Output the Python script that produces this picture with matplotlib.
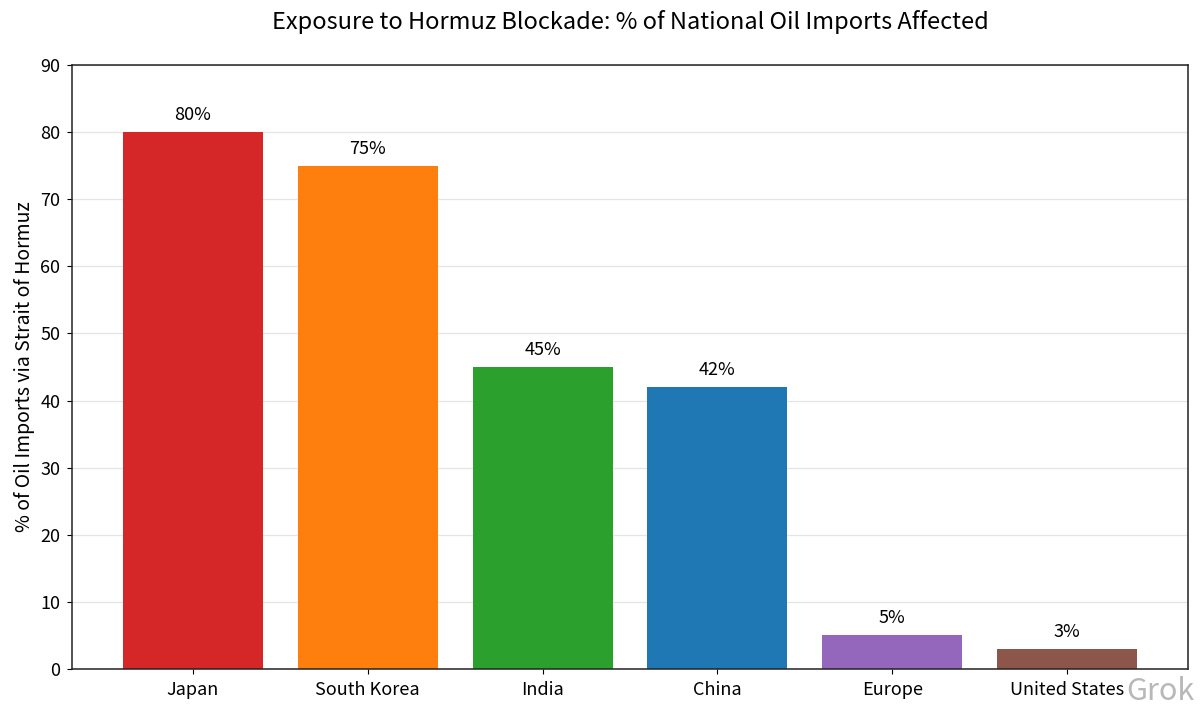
import matplotlib
matplotlib.use("Agg")
import matplotlib.pyplot as plt

plt.rcParams['font.family'] = ['Noto Sans CJK SC', 'DejaVu Sans']

countries = ["Japan", "South Korea", "India", "China", "Europe", "United States"]
shares = [80, 75, 45, 42, 5, 3]
colors = ["#d62728", "#ff7f0e", "#2ca02c", "#1f77b4", "#9467bd", "#8c564b"]
yticks = [0, 10, 20, 30, 40, 50, 60, 70, 80, 90]

fig = plt.figure(figsize=(12, 7.13), dpi=100)
ax = fig.add_axes([0.06, 0.0617, 0.93, 0.8471])
bars = ax.bar(countries, shares, color=colors, width=0.8, zorder=2)
for b, v in zip(bars, shares):
    ax.text(b.get_x() + b.get_width() / 2, v + 1.2, f"{v}%", ha="center", va="bottom", fontsize=13)
ax.set_ylim(0, 90)
ax.set_yticks(yticks)
ax.yaxis.grid(True, color="#e5e5e5", linewidth=0.9, zorder=0)
ax.set_axisbelow(True)
for s in ax.spines.values():
    s.set_linewidth(1.1)
    s.set_color("#222222")
ax.tick_params(axis="both", labelsize=13, pad=5)
ax.set_ylabel("% of Oil Imports via Strait of Hormuz", fontsize=14)
ax.set_title("Exposure to Hormuz Blockade: % of National Oil Imports Affected", fontsize=17, pad=26, y=1.0)
ax.title.set_position((0.5, 1.0))
fig.text(0.995, 0.03, "Grok", ha="right", va="center", fontsize=22, color="#9a9a9a", alpha=0.7)
fig.savefig("out.png", dpi=100)
